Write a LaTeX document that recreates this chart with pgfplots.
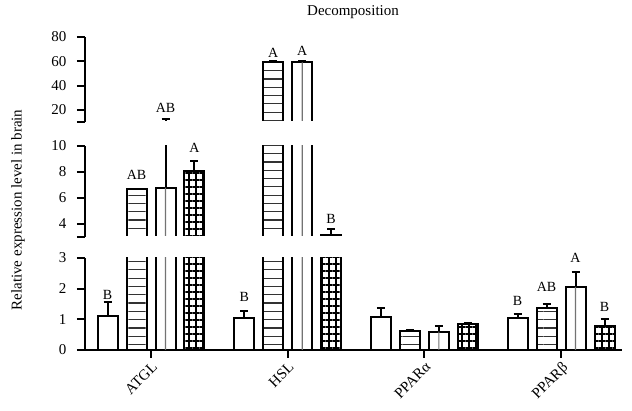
\documentclass[border=0pt]{standalone}
\usepackage{fontspec}
\setmainfont{Liberation Serif}
\usepackage{pgfplots}
\pgfplotsset{compat=1.18}
\usepackage{pgfplotstable}
\usetikzlibrary{patterns.meta}

\pgfplotstableread{
x y e
0 1.12 0.45
1 1.05 0.23
2 1.06 0.31
3 1.03 0.16
}\sA
\pgfplotstableread{
x y e
0 6.67 0.05
1 59.8 0.4
2 0.63 0.03
3 1.38 0.13
}\sB
\pgfplotstableread{
x y e
0 6.8 5.3
1 59.0 1.5
2 0.60 0.19
3 2.06 0.49
}\sC
\pgfplotstableread{
x y e
0 8.08 0.8
1 3.15 0.45
2 0.85 0.04
3 0.78 0.24
}\sD

\pgfplotsset{
  seg/.style={scale only axis, width=537pt, xmin=-0.483, xmax=3.446,
    clip mode=individual,
    axis line style={-, line width=2pt},
    tick style={line width=2pt, black}, major tick length=8pt, tick align=outside,
    /pgf/number format/assume math mode=true,
    xticklabel style={font=\fontsize{15}{17}\selectfont},
    anchor=south west},
  ylab/.style={yticklabel style={font=\fontsize{15}{17}\selectfont, anchor=east, xshift=-7pt}},
  bars/.style={ybar, bar width=20pt, bar shift=0pt, draw=black, line width=2pt,
    error bars/y dir=plus, error bars/y explicit,
    error bars/error bar style={line width=2pt, black},
    error bars/error mark options={rotate=90, mark size=4pt, line width=2pt, black}},
}
\newcommand{\allbars}{%
  \addplot[bars, fill=white] table[x expr=\thisrow{x}-0.318,y=y,y error=e]{\sA};
  \addplot[bars, pattern={Lines[angle=0,distance=8.3pt,line width=1.2pt]}, pattern color=black!80] table[x expr=\thisrow{x}-0.106,y=y,y error=e]{\sB};
  \addplot[bars, fill=white] table[x expr=\thisrow{x}+0.106,y=y,y error=e]{\sC};
  \addplot[ybar, bar width=1.2pt, bar shift=0pt, fill=black!55, draw=none] table[x expr=\thisrow{x}+0.106,y=y]{\sC};
  \addplot[bars, pattern={Hatch[angle=0,distance=7pt,line width=1.8pt]}, pattern color=black] table[x expr=\thisrow{x}+0.318,y=y,y error=e]{\sD};
}
\newcommand{\lab}[3]{\node[font=\fontsize{14}{16}\selectfont, inner sep=0pt] at (axis cs:#1,#2) {#3};}
\newcommand{\openbottom}[1]{\fill[white] ([yshift=-1.5pt]axis cs:-0.45,#1) rectangle ([yshift=1.3pt]axis cs:3.446,#1);}

\begin{document}
\begin{tikzpicture}[x=1pt,y=1pt]
\useasboundingbox (0,0) rectangle (632,411);
% bottom segment
\begin{axis}[seg, at={(85pt,61pt)}, height=92pt, ymin=0, ymax=3,
  axis lines*=left, ytick={0,1,2,3}, ylab,
  xtick={0,1,2,3}, xticklabels={ATGL,HSL,PPARα,PPARβ},
  xticklabel style={rotate=45, anchor=north east, inner sep=2pt}]
\allbars
\lab{-0.318}{1.79}{B}
\lab{0.682}{1.74}{B}
\lab{2.682}{1.6}{B}
\lab{2.894}{2.06}{AB}
\lab{3.106}{2.99}{A}
\lab{3.318}{1.41}{B}
\end{axis}
% middle segment
\begin{axis}[seg, at={(85pt,174pt)}, height=91pt, ymin=3, ymax=10,
  axis lines*=left, x axis line style={draw=none}, xtick=\empty,
  ytick={3,4,6,8,10}, yticklabels={,4,6,8,10}, ylab]
\allbars
\openbottom{3}
\lab{-0.106}{7.77}{AB}
\lab{0.318}{9.87}{A}
\lab{1.318}{4.36}{B}
\end{axis}
% top segment
\begin{axis}[seg, at={(85pt,289pt)}, height=85pt, ymin=10, ymax=80,
  axis lines*=left, x axis line style={draw=none}, xtick=\empty,
  ytick={10,20,40,60,80}, yticklabels={,20,40,60,80}, ylab]
\allbars
\openbottom{10}
\lab{0.106}{21.6}{AB}
\lab{0.894}{66.6}{A}
\lab{1.106}{68.7}{A}
\end{axis}
\node[font=\fontsize{15}{17}\selectfont] at (353,399) {Decomposition};
\node[rotate=90, font=\fontsize{15}{17}\selectfont] at (18,201) {Relative expression level in brain};
\end{tikzpicture}
\end{document}
